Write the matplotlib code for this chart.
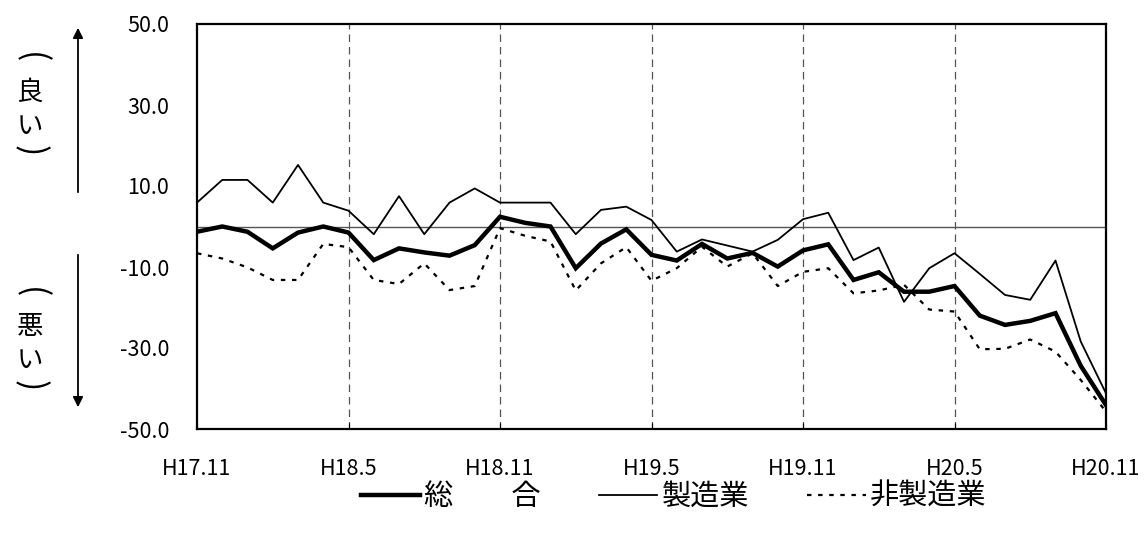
import numpy as np
import matplotlib
matplotlib.use("Agg")
import matplotlib.pyplot as plt
from matplotlib.patches import FancyArrowPatch

plt.rcParams['font.family'] = ['Noto Sans CJK JP', 'DejaVu Sans']

# monthly, H17.11 .. H20.11
tick_labels = ["H17.11", "H18.5", "H18.11", "H19.5", "H19.11", "H20.5", "H20.11"]

total = [-1.3, 0.0, -1.3, -5.4, -1.5, 0.0, -1.5, -8.3, -5.4, -6.4, -7.2, -4.6,
         2.4, 0.9, 0.0, -10.3, -4.2, -0.7, -7.0, -8.4, -4.3, -7.9, -6.5, -9.9,
         -5.9, -4.4, -13.2, -11.3, -16.1, -16.1, -14.7, -22.0, -24.3, -23.3, -21.4, -34.4,
         -44.1]
manuf = [5.9, 11.5, 11.5, 5.9, 15.2, 5.9, 3.9, -1.9, 7.5, -1.9, 5.9, 9.4,
         5.9, 5.9, 5.9, -1.9, 4.1, 4.9, 1.6, -6.2, -3.2, -4.7, -6.2, -3.3,
         1.8, 3.4, -8.3, -5.2, -18.6, -10.3, -6.6, -11.7, -16.9, -18.1, -8.4, -28.4,
         -41.2]
nonmanuf = [-6.6, -7.9, -10.1, -13.2, -13.2, -4.3, -5.1, -13.2, -14.2, -9.1, -15.7, -14.7,
            -0.4, -2.3, -3.7, -15.8, -9.1, -5.1, -13.4, -10.3, -5.0, -9.9, -6.6, -14.7,
            -11.2, -10.3, -16.5, -15.8, -14.4, -20.5, -21.0, -30.3, -30.2, -27.9, -30.9, -37.9,
            -45.7]

x = np.arange(len(total))

W, H = 1147, 533
fig = plt.figure(figsize=(W / 100, H / 100), dpi=100)
ax = fig.add_axes([197/W, 1-429/H, (1106-197)/W, (429-24)/H])

# reference lines
ax.axhline(0, color="#555555", lw=1.0, zorder=1)
for t in range(6, 36, 6):
    ax.axvline(t, color="#555555", lw=0.9, ls=(0, (6, 4)), zorder=1)

l1, = ax.plot(x, total, color="black", lw=3.2, zorder=4, solid_joinstyle="miter")
l2, = ax.plot(x, manuf, color="black", lw=1.3, zorder=3)
l3, = ax.plot(x, nonmanuf, color="black", lw=1.6, ls=(0, (2, 3)), zorder=3)

ax.set_xlim(0, 36)
ax.set_ylim(-50, 50)
ax.set_xticks(range(0, 37, 6))
ax.set_xticklabels(tick_labels)
ax.set_yticks([50, 30, 10, -10, -30, -50])
ax.set_yticklabels(["50.0", "30.0", "10.0", "-10.0", "-30.0", "-50.0"])
ax.tick_params(axis="both", direction="in", length=4, labelsize=15.5)
ax.tick_params(axis="x", pad=21)
ax.tick_params(axis="y", length=0, pad=20)
for s in ax.spines.values():
    s.set_linewidth(1.6)

# left side annotations: vertical （良い） / （悪い）
def vlabel(chars, ys):
    for ch, yy in zip(chars, ys):
        if ch in "()":
            fig.text(30/W, 1-yy/H, ch, ha="center", va="center", fontsize=24,
                     rotation=-90, rotation_mode="anchor")
        else:
            fig.text(30/W, 1-yy/H, ch, ha="center", va="center", fontsize=19)

vlabel(["(", "良", "い", ")"], [58, 92, 126, 151])
vlabel(["(", "悪", "い", ")"], [293, 327, 361, 386])

fig.add_artist(FancyArrowPatch(
    (78/W, 1-195/H), (78/W, 1-25/H), transform=fig.transFigure,
    arrowstyle="-|>", mutation_scale=15, lw=1.3, color="black"))
fig.add_artist(FancyArrowPatch(
    (78/W, 1-252/H), (78/W, 1-410/H), transform=fig.transFigure,
    arrowstyle="-|>", mutation_scale=15, lw=1.3, color="black"))

fig.legend([l1, l2, l3], ["総　　合", "製造業", "非製造業"],
           loc="center", bbox_to_anchor=(674/W, 1-497/H), ncol=3,
           frameon=False, fontsize=21, handlelength=2.0, handletextpad=0.15,
           columnspacing=2.0)

fig.savefig("out.png", dpi=100)
